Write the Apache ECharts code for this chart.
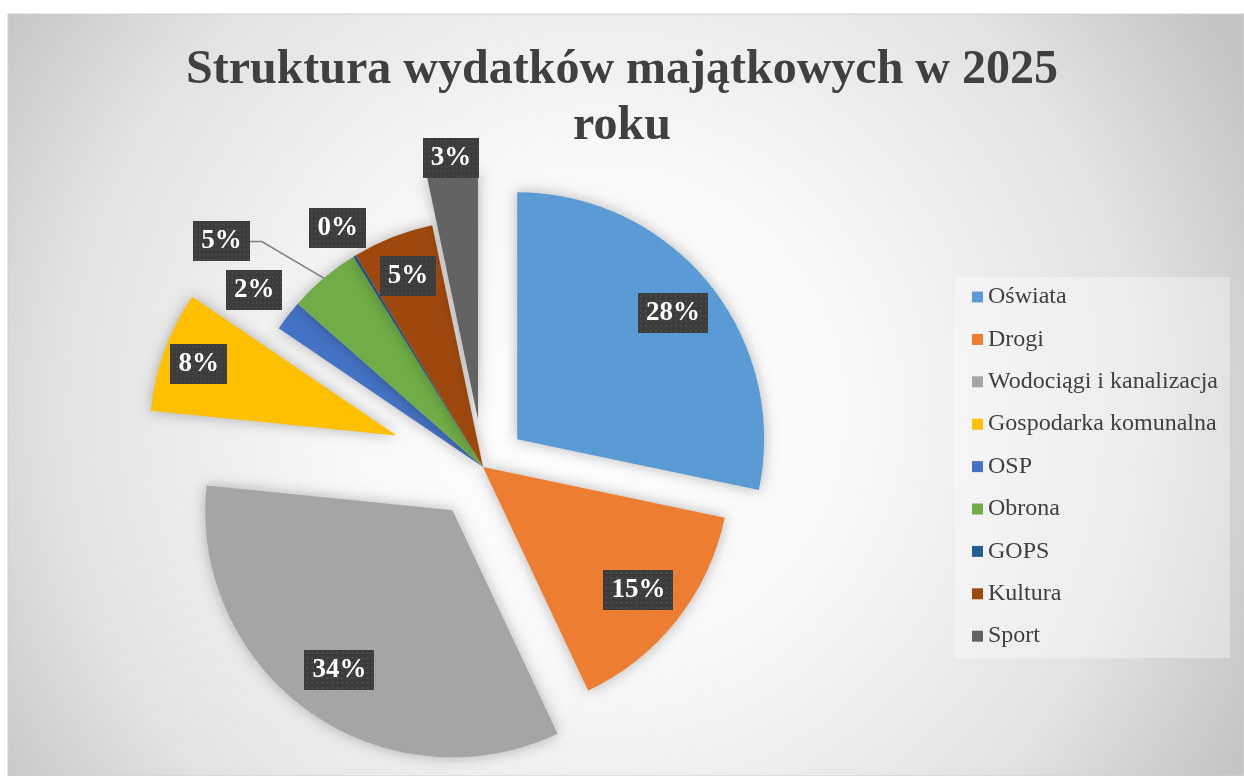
<!DOCTYPE html>
<html><head><meta charset="utf-8">
<script src="https://cdn.jsdelivr.net/npm/echarts@6/dist/echarts.min.js"></script>
<style>html,body{margin:0;padding:0;background:#fff;overflow:hidden}#c{width:1244px;height:776px}</style>
</head><body><div id="c"></div>
<script>
// ---- data ----
const categories = ['Oświata', 'Drogi', 'Wodociągi i kanalizacja', 'Gospodarka komunalna', 'OSP', 'Obrona', 'GOPS', 'Kultura', 'Sport'];
const shares = [28.3, 14.7, 33.6, 7.9, 2.0, 4.7, 0.2, 5.3, 3.3];
const titleText = 'Struktura wydatków majątkowych w 2025\nroku';

// ---- style / layout ----
const colors = ['#5b9bd5', '#ed7d31', '#a5a5a5', '#ffc000', '#4472c4', '#70ad47', '#255e91', '#9e480e', '#636363'];
const CENTER = [483, 467];
const R = 247;
const explode = [44, 0, 53, 92, 0, 0, 0, 0, 48];
const labelAt = [0.8, 0.79, 0.78, 0.84, 1.16, 'line', 1.12, 0.82, 1.05];
const SERIF = '"Liberation Serif", "Times New Roman", serif';

function dotPattern() {
  const c = document.createElement('canvas');
  c.width = 70; c.height = 40;
  const g = c.getContext('2d');
  g.fillStyle = '#3c3c3c'; g.fillRect(0, 0, 70, 40);
  g.fillStyle = '#4b4b4b';
  for (let x = 2; x < 70; x += 5) for (let y = 2; y < 40; y += 5) g.fillRect(x, y, 2, 2);
  return c;
}
const pat = dotPattern();
const labelStyle = {
  show: true,
  formatter: p => Math.round(p.percent) + '%',
  color: '#ffffff', fontFamily: SERIF, fontWeight: 'bold', fontSize: 27, lineHeight: 30,
  backgroundColor: { image: pat },
  padding: [5, 8, 5, 8],
  shadowColor: 'rgba(0,0,0,0.55)', shadowBlur: 6, shadowOffsetX: 3, shadowOffsetY: 3
};
const transparentItem = { color: 'rgba(0,0,0,0)', borderWidth: 0, shadowBlur: 0, shadowColor: 'rgba(0,0,0,0)' };

const series = [];
// visible sectors, one pie per explosion distance
[...new Set(explode)].forEach(off => {
  series.push({
    type: 'pie', center: CENTER, radius: [0, R], startAngle: 90, clockwise: true,
    selectedMode: 'multiple', selectedOffset: off, avoidLabelOverlap: false,
    silent: true, emphasis: { disabled: true }, animation: false,
    itemStyle: { borderWidth: 0, shadowBlur: 14, shadowColor: 'rgba(0,0,0,0.28)' },
    select: { itemStyle: { borderWidth: 0 } },
    label: { show: false }, labelLine: { show: false },
    labelLayout: function (p) {
      const pts = p.labelLinePoints;
      if (!pts || pts.length < 3 || labelAt[p.dataIndex] !== 'line') return {};
      const e = pts[pts.length - 1];
      return { labelLinePoints: [pts[0], [e[0] + 12, e[1]], [e[0], e[1]]] };
    },
    data: categories.map((n, i) => {
      const mine = explode[i] === off;
      const it = { name: n, value: shares[i], selected: mine && off > 0,
        itemStyle: mine ? { color: colors[i] } : transparentItem };
      if (mine && labelAt[i] === 'line') {
        it.label = Object.assign({}, labelStyle, { position: 'outside', distanceToLabelLine: 0 });
        it.labelLine = { show: true, length: 48, length2: 43, smooth: false, lineStyle: { color: '#7f7f7f', width: 1.5 } };
      }
      return it;
    })
  });
});
// label carriers: invisible rings whose middle radius sets where each label sits
categories.forEach((n, i) => {
  if (typeof labelAt[i] !== 'number') return;
  const mid = labelAt[i] * R;
  series.push({
    type: 'pie', center: CENTER, radius: [mid - 60, mid + 60], startAngle: 90, clockwise: true,
    selectedMode: 'multiple', selectedOffset: explode[i], avoidLabelOverlap: false,
    silent: true, emphasis: { disabled: true }, animation: false, z: 5,
    itemStyle: transparentItem,
    label: { show: false }, labelLine: { show: false },
    data: categories.map((m, j) => ({
      name: m, value: shares[j], selected: j === i && explode[i] > 0,
      label: j === i ? Object.assign({}, labelStyle, { position: 'inside' }) : { show: false }
    }))
  });
});

const chart = echarts.init(document.getElementById('c'), null, { renderer: 'canvas' });
chart.setOption({
  animation: false,
  graphic: [{
    type: 'rect', silent: true, z: -10,
    shape: { x: 8, y: 14, width: 1236, height: 762 },
    style: {
      fill: new echarts.graphic.RadialGradient(0.48, 0.52, 0.95, [
        { offset: 0, color: '#ffffff' },
        { offset: 0.35, color: '#f8f8f8' },
        { offset: 0.75, color: '#e2e2e2' },
        { offset: 1, color: '#c4c4c4' }
      ]),
      stroke: '#d0d0d0', lineWidth: 1
    }
  }],
  title: {
    text: titleText, left: 'center', top: 38,
    textStyle: { fontFamily: SERIF, fontWeight: 'bold', fontSize: 48, lineHeight: 56, color: '#404040' }
  },
  legend: {
    orient: 'vertical', left: 955, top: 277,
    padding: [8, 12, 10, 17],
    backgroundColor: 'rgba(255,255,255,0.35)',
    icon: 'rect', itemWidth: 11, itemHeight: 11, itemGap: 18.4,
    itemStyle: { shadowBlur: 0, borderWidth: 0 },
    textStyle: { fontFamily: SERIF, fontSize: 24, lineHeight: 22, color: '#404040' },
    selectedMode: false,
    data: categories.map((n, i) => ({ name: n, itemStyle: { color: colors[i] } }))
  },
  series: series
});
</script></body></html>
